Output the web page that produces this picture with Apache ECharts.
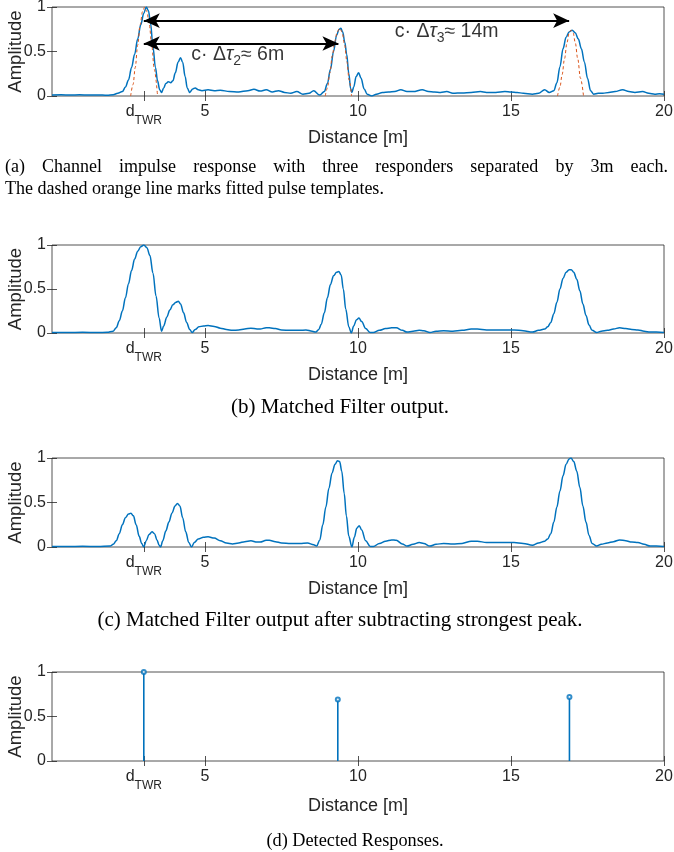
<!DOCTYPE html>
<html><head><meta charset="utf-8">
<script src="https://cdn.jsdelivr.net/npm/echarts@6/dist/echarts.min.js"></script>
<style>html,body{margin:0;padding:0;background:#fff}#c{width:674px;height:852px}</style>
</head><body><div id="c"></div><script>
// ---- data ----
const xTickValues = [3, 5, 10, 15, 20];
const yTickValues = [0, 0.5, 1];

// (a) channel impulse response
const cir = [[0,0.01],[0.3,0.015],[0.6,0.01],[0.9,0.015],[1.2,0.01],[1.5,0.012],[1.8,0.008],[2.0,0.015],[2.15,0.03],[2.3,0.05],[2.4,0.1],[2.5,0.18],[2.6,0.32],[2.7,0.47],[2.8,0.64],[2.9,0.8],[3.0,0.93],[3.08,1.0],[3.15,0.96],[3.22,0.82],[3.3,0.55],[3.38,0.32],[3.45,0.17],[3.52,0.07],[3.58,0.04],[3.65,0.09],[3.72,0.14],[3.8,0.16],[3.88,0.15],[3.95,0.17],[4.03,0.26],[4.12,0.38],[4.2,0.43],[4.27,0.38],[4.35,0.22],[4.42,0.09],[4.5,0.04],[4.6,0.08],[4.68,0.09],[4.78,0.07],[4.9,0.06],[5.1,0.07],[5.3,0.06],[5.5,0.065],[5.8,0.05],[6.1,0.045],[6.4,0.06],[6.6,0.075],[6.8,0.055],[7.0,0.07],[7.2,0.045],[7.4,0.06],[7.6,0.04],[7.8,0.03],[8.0,0.05],[8.2,0.02],[8.4,0.03],[8.55,0.06],[8.75,0.01],[8.9,0.05],[9.0,0.14],[9.1,0.3],[9.2,0.5],[9.3,0.68],[9.38,0.75],[9.44,0.76],[9.5,0.72],[9.57,0.6],[9.63,0.47],[9.7,0.25],[9.76,0.08],[9.8,0.04],[9.86,0.1],[9.94,0.22],[10.02,0.26],[10.1,0.2],[10.2,0.08],[10.3,0.02],[10.45,0.0],[10.6,0.02],[10.8,0.04],[11.0,0.045],[11.2,0.05],[11.4,0.07],[11.6,0.05],[11.8,0.05],[12.1,0.07],[12.3,0.05],[12.5,0.045],[12.7,0.04],[12.9,0.05],[13.1,0.03],[13.4,0.035],[13.7,0.04],[14.0,0.05],[14.2,0.04],[14.5,0.04],[14.8,0.05],[15.0,0.045],[15.2,0.04],[15.4,0.03],[15.7,0.02],[15.9,0.03],[16.1,0.07],[16.25,0.04],[16.4,0.06],[16.5,0.15],[16.6,0.33],[16.7,0.53],[16.8,0.66],[16.9,0.72],[17.0,0.74],[17.1,0.71],[17.2,0.64],[17.3,0.53],[17.4,0.38],[17.5,0.2],[17.6,0.06],[17.7,0.02],[17.85,0.03],[18.0,0.03],[18.2,0.04],[18.4,0.05],[18.65,0.07],[18.85,0.05],[19.05,0.04],[19.3,0.05],[19.5,0.03],[19.7,0.02],[19.85,0.025],[20,0.02]];

// (a) fitted pulse templates
const fit1 = [[2.57,0],[2.65,0.13],[2.72,0.32],[2.8,0.57],[2.88,0.8],[2.96,0.95],[3.03,1.0],[3.1,0.95],[3.18,0.8],[3.26,0.57],[3.34,0.3],[3.45,0]];
const fit2 = [[8.93,0],[9.0,0.09],[9.08,0.26],[9.16,0.45],[9.24,0.61],[9.32,0.72],[9.4,0.76],[9.48,0.72],[9.56,0.58],[9.64,0.38],[9.71,0.18],[9.79,0]];
const fit3 = [[16.52,0],[16.6,0.1],[16.67,0.24],[16.75,0.42],[16.83,0.6],[16.9,0.71],[16.96,0.74],[17.03,0.71],[17.1,0.6],[17.18,0.42],[17.27,0.2],[17.37,0]];

// (b) matched filter output
const mf = [[0,0.005],[0.5,0.005],[1.0,0.008],[1.5,0.005],[1.8,0.008],[2.0,0.02],[2.1,0.06],[2.2,0.14],[2.3,0.25],[2.4,0.4],[2.5,0.56],[2.6,0.71],[2.7,0.84],[2.8,0.93],[2.9,0.98],[3.0,1.0],[3.1,0.97],[3.2,0.88],[3.3,0.68],[3.4,0.42],[3.5,0.17],[3.58,0.02],[3.65,0.08],[3.75,0.18],[3.85,0.26],[3.95,0.32],[4.05,0.35],[4.13,0.36],[4.2,0.33],[4.3,0.23],[4.4,0.12],[4.5,0.04],[4.58,0.005],[4.68,0.04],[4.8,0.07],[4.95,0.08],[5.1,0.085],[5.3,0.075],[5.5,0.055],[5.7,0.04],[5.9,0.03],[6.1,0.035],[6.3,0.045],[6.5,0.055],[6.7,0.045],[6.8,0.045],[7.0,0.06],[7.1,0.06],[7.3,0.05],[7.5,0.035],[7.8,0.03],[8.1,0.03],[8.3,0.035],[8.5,0.02],[8.62,0.01],[8.72,0.04],[8.8,0.1],[8.9,0.23],[9.0,0.4],[9.1,0.55],[9.2,0.65],[9.3,0.69],[9.37,0.7],[9.45,0.66],[9.52,0.5],[9.6,0.27],[9.7,0.07],[9.78,0.0],[9.86,0.08],[9.95,0.15],[10.03,0.17],[10.12,0.13],[10.25,0.05],[10.4,0.005],[10.5,0.005],[10.7,0.03],[10.9,0.05],[11.1,0.06],[11.25,0.06],[11.45,0.03],[11.6,0.01],[11.8,0.02],[12.0,0.03],[12.15,0.025],[12.35,0.005],[12.55,0.02],[12.8,0.025],[13.1,0.02],[13.4,0.03],[13.7,0.045],[13.9,0.045],[14.2,0.035],[14.5,0.035],[14.8,0.035],[15.1,0.035],[15.4,0.025],[15.7,0.01],[15.9,0.03],[16.1,0.045],[16.2,0.07],[16.3,0.12],[16.4,0.22],[16.5,0.35],[16.6,0.5],[16.7,0.62],[16.8,0.69],[16.9,0.72],[16.97,0.72],[17.05,0.69],[17.15,0.61],[17.25,0.48],[17.35,0.33],[17.45,0.2],[17.55,0.09],[17.65,0.03],[17.8,0.005],[17.95,0.02],[18.15,0.03],[18.35,0.045],[18.55,0.06],[18.75,0.05],[18.95,0.04],[19.15,0.035],[19.35,0.02],[19.55,0.01],[19.75,0.01],[20,0.005]];

// (c) matched filter output after subtracting strongest peak
const mfSub = [[0,0.005],[0.5,0.005],[1.0,0.008],[1.5,0.005],[1.9,0.01],[2.0,0.03],[2.1,0.07],[2.2,0.15],[2.3,0.25],[2.4,0.33],[2.5,0.37],[2.58,0.38],[2.66,0.35],[2.75,0.25],[2.85,0.12],[2.93,0.04],[3.0,0.0],[3.08,0.07],[3.17,0.14],[3.27,0.17],[3.35,0.15],[3.43,0.08],[3.5,0.02],[3.55,0.0],[3.62,0.07],[3.72,0.18],[3.82,0.28],[3.92,0.38],[4.02,0.46],[4.1,0.49],[4.18,0.46],[4.27,0.33],[4.37,0.17],[4.47,0.05],[4.56,0.0],[4.65,0.05],[4.78,0.09],[4.95,0.11],[5.1,0.115],[5.3,0.1],[5.5,0.07],[5.7,0.045],[5.9,0.035],[6.1,0.045],[6.3,0.06],[6.5,0.07],[6.7,0.055],[6.8,0.055],[7.0,0.075],[7.1,0.075],[7.3,0.06],[7.5,0.045],[7.8,0.04],[8.1,0.04],[8.35,0.045],[8.55,0.025],[8.65,0.01],[8.75,0.08],[8.85,0.25],[8.95,0.45],[9.05,0.66],[9.15,0.83],[9.25,0.93],[9.33,0.97],[9.4,0.96],[9.47,0.85],[9.55,0.6],[9.62,0.35],[9.7,0.12],[9.8,0.0],[9.88,0.11],[9.96,0.21],[10.04,0.24],[10.12,0.19],[10.25,0.07],[10.4,0.005],[10.5,0.005],[10.7,0.04],[10.9,0.065],[11.1,0.08],[11.25,0.075],[11.45,0.035],[11.6,0.01],[11.8,0.03],[12.0,0.05],[12.15,0.04],[12.35,0.01],[12.55,0.03],[12.8,0.04],[13.1,0.035],[13.4,0.04],[13.7,0.065],[13.9,0.065],[14.2,0.05],[14.5,0.05],[14.8,0.05],[15.1,0.05],[15.4,0.04],[15.7,0.02],[15.9,0.045],[16.1,0.065],[16.2,0.09],[16.3,0.15],[16.4,0.28],[16.5,0.45],[16.6,0.63],[16.7,0.8],[16.8,0.93],[16.9,0.99],[16.96,1.0],[17.05,0.96],[17.15,0.85],[17.25,0.67],[17.35,0.46],[17.45,0.28],[17.55,0.13],[17.65,0.04],[17.8,0.01],[17.95,0.03],[18.15,0.045],[18.35,0.06],[18.55,0.08],[18.75,0.07],[18.95,0.055],[19.15,0.05],[19.35,0.03],[19.55,0.01],[19.75,0.01],[20,0.005]];

// (d) detected responses
const detectedX = [3.0, 9.34, 16.91];
const detectedY = [1.0, 0.69, 0.72];

// annotations
const arrow3 = [[3.0, 0.846], [16.9, 0.846]];
const arrow2 = [[3.0, 0.59], [9.36, 0.59]];
const label2Pos = [4.55, 0.46];
const label3Pos = [11.2, 0.72];

const captions = [
  '(b) Matched Filter output.',
  '(c) Matched Filter output after subtracting strongest peak.',
  '(d) Detected Responses.'
];
const captionA1 = '(a) Channel impulse response with three responders separated by 3m each.';
const captionA2 = 'The dashed orange line marks fitted pulse templates.';

// ---- layout ----
const SANS = '"Liberation Sans", Arial, sans-serif';
const AX = '#262626';
const BLUE = '#0072BD';
const ORANGE = '#D95319';
const grids = [
  {top: 7, height: 89},
  {top: 245, height: 88},
  {top: 458, height: 89},
  {top: 672, height: 89}
];

const chart = echarts.init(document.getElementById('c'), null, {renderer: 'canvas'});

const gridOpt = grids.map(g => ({left: 52, width: 612, top: g.top, height: g.height, show: true, borderColor: AX, borderWidth: 0.8, backgroundColor: 'transparent', containLabel: false, outerBoundsMode: 'none'}));
const xAxes = [], yAxes = [];
grids.forEach((g, i) => {
  xAxes.push({
    type: 'value', gridIndex: i, min: 0, max: 20, position: 'bottom',
    name: 'Distance [m]', nameLocation: 'middle', nameGap: i === 3 ? 36 : 33, nameMoveOverlap: false,
    nameTextStyle: {fontFamily: SANS, fontSize: 18, color: AX},
    axisLine: {show: false}, splitLine: {show: false},
    axisTick: {show: true, inside: true, length: 5, customValues: xTickValues, lineStyle: {color: AX, width: 0.8}},
    axisLabel: {
      customValues: xTickValues, margin: 8, color: AX, fontFamily: SANS, fontSize: 16,
      formatter: v => v === 3 ? '{d|d}{s|TWR}' : String(v),
      rich: {
        d: {fontFamily: SANS, fontSize: 16, color: AX, padding: [0, 0, 10, 0]},
        s: {fontFamily: SANS, fontSize: 12, color: AX, padding: [8, 0, 0, 0]}
      }
    }
  });
  xAxes.push({
    type: 'value', gridIndex: i, min: 0, max: 20, position: 'top',
    axisLine: {show: false}, splitLine: {show: false}, axisLabel: {show: false},
    axisTick: {show: true, inside: true, length: 5, customValues: xTickValues, lineStyle: {color: AX, width: 0.8}}
  });
  yAxes.push({
    type: 'value', gridIndex: i, min: 0, max: 1, interval: 0.5, position: 'left',
    name: 'Amplitude', nameLocation: 'middle', nameGap: 27, nameRotate: 90, nameMoveOverlap: false,
    nameTextStyle: {fontFamily: SANS, fontSize: 18.5, color: AX},
    axisLine: {show: false}, splitLine: {show: false},
    axisTick: {show: true, inside: true, length: 5, lineStyle: {color: AX, width: 0.8}},
    axisLabel: {margin: 6, color: AX, fontFamily: SANS, fontSize: 16}
  });
  yAxes.push({
    type: 'value', gridIndex: i, min: 0, max: 1, interval: 0.5, position: 'right',
    axisLine: {show: false}, splitLine: {show: false}, axisLabel: {show: false},
    axisTick: {show: true, inside: true, length: 5, lineStyle: {color: AX, width: 0.8}}
  });
});

function lineSeries(data, gi, color, width, dashed, z) {
  return {
    type: 'line', xAxisIndex: gi * 2, yAxisIndex: gi * 2, data: data,
    showSymbol: false, symbol: 'none', smooth: 0.35, smoothMonotone: 'x', z: z || 2,
    lineStyle: {color: color, width: width, type: dashed ? [3, 2.5] : 'solid'},
    silent: true, animation: false
  };
}

const arrowLine = (pts) => [{coord: pts[0], symbol: 'arrow'}, {coord: pts[1], symbol: 'arrow'}];

const series = [
  lineSeries(cir, 0, BLUE, 1.5, false, 2),
  lineSeries(fit1, 0, ORANGE, 1, true, 3),
  lineSeries(fit2, 0, ORANGE, 1, true, 3),
  lineSeries(fit3, 0, ORANGE, 1, true, 3),
  {
    type: 'line', xAxisIndex: 0, yAxisIndex: 0, data: [], z: 5,
    markLine: {
      silent: true, animation: false, symbol: ['arrow', 'arrow'], symbolSize: [11, 16],
      lineStyle: {color: '#000', width: 2, type: 'solid'},
      label: {show: false},
      data: [arrowLine(arrow3), arrowLine(arrow2)]
    }
  },
  {
    type: 'scatter', xAxisIndex: 0, yAxisIndex: 0, symbolSize: 0, z: 6, silent: true,
    data: [
      {value: label2Pos, label: {formatter: '{n|c· Δ}{i|τ}{sub|2}{n|≈ 6m}'}},
      {value: label3Pos, label: {formatter: '{n|c· Δ}{i|τ}{sub|3}{n|≈ 14m}'}}
    ],
    label: {
      show: true, position: 'right', distance: 0,
      rich: {
        n: {fontFamily: SANS, fontSize: 19.5, color: '#000'},
        i: {fontFamily: SANS, fontSize: 19.5, fontStyle: 'italic', color: '#000'},
        sub: {fontFamily: SANS, fontSize: 14, color: '#000', padding: [13, 0, 0, 0]}
      }
    }
  },
  lineSeries(mf, 1, BLUE, 1.5, false, 2),
  lineSeries(mfSub, 2, BLUE, 1.5, false, 2),
  {
    type: 'bar', xAxisIndex: 6, yAxisIndex: 6, barWidth: 1.6, silent: true,
    data: detectedX.map((x, i) => [x, detectedY[i]]),
    itemStyle: {color: BLUE}
  },
  {
    type: 'scatter', xAxisIndex: 6, yAxisIndex: 6, symbol: 'emptyCircle', symbolSize: 4, silent: true,
    data: detectedX.map((x, i) => [x, detectedY[i]]),
    itemStyle: {color: BLUE, borderColor: BLUE, borderWidth: 1.2}, z: 4
  }
];

// caption graphics (justified first line of caption a)
function measure(text, font) {
  const c = document.createElement('canvas').getContext('2d');
  c.font = font;
  return c.measureText(text).width;
}
const capFont = '18px "Liberation Serif"';
const graphics = [];
(function () {
  const words = captionA1.split(' ');
  const left = 5, right = 668;
  const widths = words.map(w => measure(w, capFont));
  const total = widths.reduce((a, b) => a + b, 0);
  const gap = (right - left - total) / (words.length - 1);
  let x = left;
  words.forEach((w, i) => {
    graphics.push({type: 'text', left: x, top: 158, style: {text: w, font: capFont, fill: '#000'}, silent: true});
    x += widths[i] + gap;
  });
  graphics.push({type: 'text', left: 5, top: 180, style: {text: captionA2, font: capFont, fill: '#000'}, silent: true});
  const capStyles = [
    {font: '21px "Liberation Serif"', top: 397, cx: 340},
    {font: '21px "Liberation Serif"', top: 610, cx: 340},
    {font: '18.3px "Liberation Serif"', top: 832, cx: 355}
  ];
  captions.forEach((t, i) => {
    const s = capStyles[i];
    const w = measure(t, s.font);
    graphics.push({type: 'text', left: s.cx - w / 2, top: s.top, style: {text: t, font: s.font, fill: '#000'}, silent: true});
  });
})();

chart.setOption({
  animation: false,
  backgroundColor: '#fff',
  grid: gridOpt,
  xAxis: xAxes,
  yAxis: yAxes,
  series: series,
  graphic: graphics
});
</script></body></html>
